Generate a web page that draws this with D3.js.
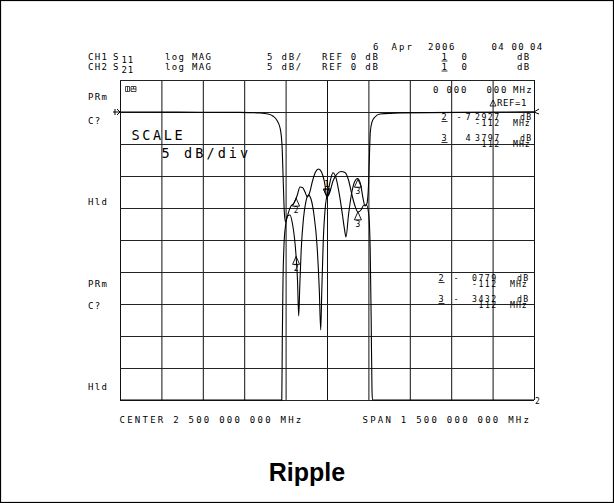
<!DOCTYPE html>
<html>
<head>
<meta charset="utf-8">
<script src="https://cdn.jsdelivr.net/npm/d3@7"></script>
<style>
  html, body { margin: 0; padding: 0; background: #fff; }
  svg { display: block; }
  .plot { font-family: "DejaVu Sans Mono", monospace; font-size: 9px; fill: #000; }
</style>
</head>
<body>
<svg width="614" height="503"></svg>
<script>
// **** Data ****

// CH1 S11 trace (MHz, dB)
var s11Freq = [1750, 1895, 2040, 2185, 2257, 2286, 2304, 2319, 2330, 2337, 2341.3, 2345.3, 2349.6, 2356.9,
    2365.9, 2375.0, 2382.2, 2387.7, 2393.1, 2397.5, 2401.5, 2406.5, 2414.9, 2423.9, 2433.0, 2442.0,
    2452.9, 2463.8, 2472.1, 2477.2, 2481.2, 2486.6, 2494.6, 2503.6, 2512.7, 2521.7, 2532.6, 2545.2,
    2556.1, 2563.3, 2568.8, 2577.9, 2588.8, 2599.6, 2610.5, 2621.4, 2630.4, 2637.7, 2644.2, 2649.6,
    2653.3, 2656.9, 2663.0, 2673.9, 2692.0, 2764.5, 2981.9, 3250];
var s11Db = [0.0, -0.02, -0.03, -0.06, -0.16, -0.31, -0.63, -1.33, -2.5, -5.16, -10.63, -15.63, -17.19, -16.25,
    -16.09, -17.5, -19.69, -22.34, -26.25, -31.88, -27.03, -21.56, -16.56, -13.91, -12.97, -13.59,
    -16.09, -20.78, -27.81, -34.06, -27.81, -20.0, -14.53, -12.5, -10.6, -9.5, -10.3, -13.0,
    -16.1, -18.3, -19.53, -16.09, -12.81, -10.94, -10.39, -11.25, -13.44, -14.69, -14.38, -12.19,
    -7.5, -3.13, -1.56, -0.78, -0.31, -0.13, -0.05, 0.03];

// CH2 S21 trace (MHz, dB)
var s21Freq = [1750, 2326, 2334.4, 2336.2, 2338.0, 2340.6, 2344.2, 2349.6, 2358.7, 2369.6, 2380.4, 2391.3,
    2402.2, 2411.2, 2420.3, 2428.6, 2436.6, 2447.5, 2458.4, 2469.2, 2480.1, 2491.0, 2500.0, 2509.1,
    2521.7, 2536.2, 2550.7, 2565.2, 2577.9, 2590.5, 2601.4, 2612.3, 2623.1, 2634.0, 2643.1, 2651.4,
    2656.5, 2660.1, 2663.0, 2664.8, 2670.3, 3250];
var s21Db = [-50, -50, -48.1, -45, -35.63, -26.25, -20.78, -17.81, -15.94, -14.69, -14.22, -13.13,
    -11.72, -11.8, -12.5, -13.28, -12.66, -10.78, -9.38, -8.91, -9.38, -10.94, -13.28, -12.66,
    -10.78, -9.69, -9.3, -9.45, -10.63, -12.97, -14.69, -15.63, -15.31, -14.53, -14.53, -16.09,
    -21.56, -32.5, -43.44, -48.13, -50, -50];

// markers: offset from the centre frequency (MHz)
var markerNames = ['2', '1', '3'];
var markerOffsets = [-112, 0, 112];

var centerFreq = 2500;
var spanFreq = 1500;
var refLevel = 0;
var dbPerDiv = 5;

// screen annotations
var headerCh = ['CH1', 'CH2'];
var headerParam = ['11', '21'];
var sideLabels = ['PRm', 'C?', 'Hld'];
var ch1Readout = [['2', '-', '7', '2927', '-112'], ['3', '', '4', '3797', '112']];
var ch2Readout = [['2', '-', '', '0779', '-112'], ['3', '-', '', '3432', '112']];
var centerText = 'CENTER 2 500 000 000 MHz';
var spanText = 'SPAN 1 500 000 000 MHz';

// **** Scales ****

var xScale = d3.scaleLinear()
    .domain([centerFreq - spanFreq / 2, centerFreq + spanFreq / 2])
    .range([120, 534]);

var yScale = d3.scaleLinear()
    .domain([refLevel - 9 * dbPerDiv, refLevel + dbPerDiv])
    .range([400, 80])
    .clamp(true);   // the analyzer pins off-screen values to the edge

var svg = d3.select('svg');

svg.append('rect')
    .attr('x', 0.5).attr('y', 0.5)
    .attr('width', 613).attr('height', 502)
    .attr('fill', 'none').attr('stroke', '#000').attr('stroke-width', 1.2);

// **** Graticule ****

var xTicks = d3.range(0, 11).map(function(i) { return xScale.domain()[0] + i * spanFreq / 10; });
var yTicks = d3.range(0, 11).map(function(i) { return yScale.domain()[0] + i * dbPerDiv; });

svg.append('g')
    .attr('transform', 'translate(0,400)')
    .call(d3.axisBottom(xScale).tickValues(xTicks).tickSize(-320).tickFormat(''))
    .call(function(g) {
        g.select('.domain').remove();
        g.selectAll('line').attr('stroke', '#111').attr('stroke-width', 1);
    });

svg.append('g')
    .attr('transform', 'translate(120,0)')
    .call(d3.axisLeft(yScale).tickValues(yTicks).tickSize(-414).tickFormat(''))
    .call(function(g) {
        g.select('.domain').remove();
        g.selectAll('line').attr('stroke', '#222').attr('stroke-width', 1.1);
    });

// **** Traces ****

function toPoints(freqs, dbs) {
    return freqs.map(function(f, i) { return { f: f, db: dbs[i] }; });
}

var line = d3.line()
    .x(function(d) { return xScale(d.f); })
    .y(function(d) { return yScale(d.db); })
    .curve(d3.curveMonotoneX);

var traces = [
    { freq: s11Freq, db: s11Db },
    { freq: s21Freq, db: s21Db }
];

svg.selectAll('path.trace')
    .data(traces)
    .enter()
    .append('path')
    .attr('class', 'trace')
    .attr('d', function(d) { return line(toPoints(d.freq, d.db)); })
    .attr('fill', 'none')
    .attr('stroke', '#000')
    .attr('stroke-width', 1.1);

// value of a trace at a frequency (linear between samples)
function valueAt(freqs, dbs, f) {
    var i = d3.bisectLeft(freqs, f);
    if (i <= 0) return dbs[0];
    if (i >= freqs.length) return dbs[dbs.length - 1];
    var t = (f - freqs[i - 1]) / (freqs[i] - freqs[i - 1]);
    return dbs[i - 1] + t * (dbs[i] - dbs[i - 1]);
}

traces.forEach(function(tr) {
    markerOffsets.forEach(function(off, k) {
        var f = centerFreq + off;
        var mx = xScale(f);
        var my = yScale(valueAt(tr.freq, tr.db, f));
        var active = markerNames[k] === '1';
        var g = svg.append('g').attr('transform', 'translate(' + mx + ',' + my + ')');
        g.append('path')
            .attr('d', active ? 'M0,0 L-3.5,-8 L3.5,-8 Z' : 'M0,0 L-3.5,8 L3.5,8 Z')
            .attr('fill', 'none')
            .attr('stroke', '#000')
            .attr('stroke-width', 0.9);
        g.append('text')
            .attr('class', 'plot')
            .attr('x', 0)
            .attr('y', active ? -10 : 15)
            .style('font-size', '8px')
            .style('text-anchor', 'middle')
            .text(markerNames[k]);
    });
});

// reference position arrows
var refY = yScale(refLevel);
svg.append('path')
    .attr('d', 'M113,' + refY + ' H120 M117,' + (refY - 3) + ' L120,' + refY + ' L117,' + (refY + 3) +
        ' M115,' + (refY - 3) + ' V' + (refY + 3))
    .attr('fill', 'none').attr('stroke', '#000').attr('stroke-width', 1);
svg.append('path')
    .attr('d', 'M534,' + refY + ' L539,' + (refY - 3) + ' M534,' + refY + ' L539,' + (refY + 2))
    .attr('fill', 'none').attr('stroke', '#000').attr('stroke-width', 1);
svg.append('text').attr('class', 'plot').attr('x', 535).attr('y', 404)
    .style('font-size', '8px').text('2');

// **** Screen text ****

function txt(x, y, s, ls, size) {
    return svg.append('text')
        .attr('class', 'plot')
        .attr('x', x).attr('y', y)
        .style('letter-spacing', (ls === undefined ? 2.1 : ls) + 'px')
        .style('font-size', (size || 9) + 'px')
        .text(s);
}

function underlined(x, y, s, size) {
    txt(x, y, s, 2.1, size);
    svg.append('line').attr('x1', x).attr('x2', x + 6)
        .attr('y1', y + 1.5).attr('y2', y + 1.5)
        .attr('stroke', '#000').attr('stroke-width', 0.8);
}

// date line
txt(373, 49.5, '6');
txt(391.5, 49.5, 'Apr');
txt(428, 49.5, '2006', 1.6);
txt(491.5, 49.5, '04', 1.3);
txt(511.5, 49.5, '00', 1.3);
txt(530, 49.5, '04', 1.3);

// channel lines
headerCh.forEach(function(ch, i) {
    var y = 59.5 + i * 10;
    txt(88, y, ch, 1.3);
    txt(113, y, 'S');
    txt(121.5, y + 3, headerParam[i], 0.8);
    txt(165, y, 'log', 1.3);
    txt(192, y, 'MAG', 1.3);
    txt(267, y, dbPerDiv + ' dB/', 1.8);
    txt(322, y, 'REF ' + refLevel + ' dB', 1.8);
    underlined(441.5, y, '1');
    txt(461.5, y, '0');
    txt(517, y, 'dB', 1.3);
});

// side annotations
sideLabels.forEach(function(s, i) {
    txt(88, [100, 124, 205][i], s, 1.3);
    txt(88, [287, 309, 390][i], s, 1.3);
});

// little annotation glyph in the corner
svg.append('path')
    .attr('d', 'M125.5,86.5 h4 v5 h-4 z M127.5,86.5 v5 M131,86.5 h5 v5 h-5 z M131,89 h5 M133.5,86.5 v2.5')
    .attr('fill', 'none').attr('stroke', '#000').attr('stroke-width', 0.7);

txt(131.5, 140, 'SCALE', 2.6, 13.5);
txt(161.5, 158, dbPerDiv + ' dB/div', 3.1, 13.5);

// marker readouts
txt(433, 93, '0', 1.8);
txt(446.5, 93, '000', 1.8);
txt(486.5, 93, '000', 1.8);
txt(513, 93, 'MHz', 1.2);
svg.append('path')
    .attr('d', 'M490,106 L493,100 L496,106 Z')
    .attr('fill', 'none').attr('stroke', '#000').attr('stroke-width', 0.8);
txt(497, 106, 'REF=1', 0.6);

function readout(rows, y0, x0) {
    rows.forEach(function(r, i) {
        var y = y0 + i * 21;
        underlined(x0, y, r[0], 8.5);
        if (r[1]) txt(x0 + 15, y, r[1], 2, 8.5);
        if (r[2]) txt(x0 + 24, y, r[2], 2, 8.5);
        txt(x0 + 33.5, y, r[3], 1.5, 8.2);
        txt(x0 + 78.5, y, 'dB', 1.2, 8.2);
        var fy = y + 6;
        txt(x0 + 33.5 + (r[4].length === 3 ? 6.5 : 0), fy, r[4], 1.5, 8.2);
        txt(x0 + 71.5, fy, 'MHz', 1.0, 8.2);
    });
}
readout(ch1Readout, 120, 441.5);
readout(ch2Readout, 281, 438.5);

// bottom frequency line
txt(119.5, 423, centerText, 2.25);
txt(362.5, 423, spanText, 2.25);

// **** Title ****
svg.append('text')
    .attr('x', 307)
    .attr('y', 481)
    .style('text-anchor', 'middle')
    .style('font-family', '"Liberation Sans", Arial, sans-serif')
    .style('font-size', '25px')
    .style('font-weight', 'bold')
    .text('Ripple');
</script>
</body>
</html>
